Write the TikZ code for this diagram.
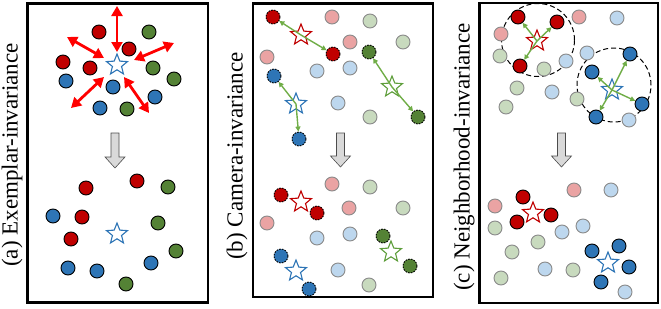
\documentclass[tikz,border=0pt]{standalone}
\usepackage{fontspec}
\setmainfont{Liberation Serif}
\usetikzlibrary{shapes.geometric,arrows.meta}
\definecolor{dred}{HTML}{C00000}
\definecolor{dgreen}{HTML}{548235}
\definecolor{dblue}{HTML}{2E75B6}
\definecolor{lred}{HTML}{EAA3A3}
\definecolor{lgreen}{HTML}{C8DABE}
\definecolor{lblue}{HTML}{BDD7EE}
\definecolor{lborder}{HTML}{8A8A8A}
\definecolor{agreen}{HTML}{70AD47}
\definecolor{sgreen}{HTML}{5F9E3C}
\definecolor{arrgray}{HTML}{D9D9D9}
\tikzset{
  pt/.style={circle, draw=black, line width=0.9pt, minimum size=14pt, inner sep=0pt},
  dr/.style={pt, fill=dred}, dg/.style={pt, fill=dgreen}, db/.style={pt, fill=dblue},
  lpt/.style={circle, draw=lborder, line width=0.9pt, minimum size=14pt, inner sep=0pt},
  lr/.style={lpt, fill=lred}, lg/.style={lpt, fill=lgreen}, lb/.style={lpt, fill=lblue},
  cam/.style={dash pattern=on 1.6pt off 1.2pt},
  mystar/.style={star, star points=5, star point ratio=2.3, minimum size=22pt, inner sep=0pt, fill=white, line width=1.1pt},
  bstar/.style={mystar, draw=dblue}, rstar/.style={mystar, draw=dred}, gstar/.style={mystar, draw=sgreen},
  frame/.style={draw=black, line width=2.6pt},
  lab/.style={rotate=90, font=\fontsize{23}{23}\selectfont, inner sep=0pt},
  redarr/.style={draw=red, line width=2.8pt, {Triangle[length=10pt,width=11pt]}-{Triangle[length=10pt,width=11pt]}},
  garr/.style={draw=agreen, line width=1.4pt, -{Triangle[length=5pt,width=5pt]}},
  downarr/.style={draw=black!70, line width=0.6pt, fill=arrgray},
  nbh/.style={circle, draw=black, line width=1pt, dash pattern=on 5pt off 3pt, inner sep=0pt}
}
\begin{document}
\begin{tikzpicture}[x=1pt,y=-1pt]
\useasboundingbox (0,0) rectangle (661,308);
% frames
\draw[frame] (27.5,3.5) rectangle (208,302.5);
\draw[frame] (253,3.5) rectangle (433,297);
\draw[frame] (479.5,3) rectangle (658,303);
% labels
\node[lab] (la) at (12,155) {(a) Exemplar-invariance};
\node[lab] (lb) at (237,156) {(b) Camera-invariance};
\node[lab] (lc) at (464,157) {(c) Neighborhood-invariance};

% ---------- panel a top ----------
\node[dr] (a1) at (99,32) {};
\node[dg] (a2) at (149,32) {};
\node[dr] (a3) at (129,49) {};
\node[dr] (a4) at (63,62) {};
\node[dr] (a5) at (90,68) {};
\node[dg] (a6) at (153,68) {};
\node[dg] (a7) at (174,79) {};
\node[db] (a8) at (66,81) {};
\node[db] (a9) at (113,87) {};
\node[db] (a10) at (155,97) {};
\node[db] (a11) at (100,108) {};
\node[dg] (a12) at (127,109) {};
\node[bstar] (as) at (117,65) {};
\coordinate (e1s) at (117,52); \coordinate (e1t) at (117,6);
\coordinate (e2s) at (104,58); \coordinate (e2t) at (67,37);
\coordinate (e3s) at (134,60); \coordinate (e3t) at (174,43);
\coordinate (e4s) at (104,77); \coordinate (e4t) at (71,108);
\coordinate (e5s) at (124,77); \coordinate (e5t) at (149,113);
\draw[redarr] (e1s) -- (e1t);
\draw[redarr] (e2s) -- (e2t);
\draw[redarr] (e3s) -- (e3t);
\draw[redarr] (e4s) -- (e4t);
\draw[redarr] (e5s) -- (e5t);
% down arrow a
\coordinate (da) at (115,133);
\draw[downarr] (da) ++(-4,0) -- ++(8,0) -- ++(0,24) -- ++(6,0) -- ++(-10,11) -- ++(-10,-11) -- ++(6,0) -- cycle;
% ---------- panel a bottom ----------
\node[dr] (b1) at (86,188) {};
\node[dr] (b2) at (137,181) {};
\node[dg] (b3) at (168,187) {};
\node[db] (b4) at (53,216) {};
\node[dr] (b5) at (82,217) {};
\node[dg] (b6) at (158,223) {};
\node[dr] (b7) at (71,239) {};
\node[dg] (b8) at (176,251) {};
\node[db] (b9) at (151,263) {};
\node[db] (b10) at (68,268) {};
\node[db] (b11) at (97,271) {};
\node[dg] (b12) at (126,284) {};
\node[bstar] (bs) at (117,234) {};

% ---------- panel b top ----------
\node[lr] (c1) at (332,17) {};
\node[lg] (c2) at (370,21) {};
\node[lr] (c3) at (350,42) {};
\node[lg] (c4) at (403,42) {};
\node[lr] (c5) at (267,57) {};
\node[lb] (c6) at (317,71) {};
\node[lb] (c7) at (350,68) {};
\node[lb] (c8) at (338,103) {};
\node[lg] (c9) at (370,117) {};
\node[dr,cam] (cr1) at (273,17) {};
\node[dr,cam] (cr2) at (333,54) {};
\node[dg,cam] (cg1) at (369,52) {};
\node[dg,cam] (cg2) at (418,117) {};
\node[db,cam] (cb1) at (274,76) {};
\node[db,cam] (cb2) at (299,139) {};
\node[rstar] (crs) at (301,35) {};
\node[gstar] (cgs) at (392,87) {};
\node[bstar] (cbs) at (296,104) {};
\draw[garr] (crs.center) -- (cr1);
\draw[garr] (crs.center) -- (cr2);
\draw[garr] (cgs.center) -- (cg1);
\draw[garr] (cgs.center) -- (cg2);
\draw[garr] (cbs.center) -- (cb1);
\draw[garr] (cbs.center) -- (cb2);
% down arrow b
\coordinate (db) at (340.5,133);
\draw[downarr] (db) ++(-4,0) -- ++(8,0) -- ++(0,23) -- ++(6,0) -- ++(-10,11) -- ++(-10,-11) -- ++(6,0) -- cycle;
% ---------- panel b bottom ----------
\node[lr] (d1) at (332,184) {};
\node[lg] (d2) at (370,187) {};
\node[lr] (d3) at (349,208) {};
\node[lg] (d4) at (403,208) {};
\node[lr] (d5) at (267,223) {};
\node[lb] (d6) at (317,238) {};
\node[lb] (d7) at (350,234) {};
\node[lb] (d8) at (338,270) {};
\node[lg] (d9) at (369,285) {};
\node[dr,cam] (dr1) at (281,195) {};
\node[dr,cam] (dr2) at (317,213) {};
\node[dg,cam] (dg1) at (383,236) {};
\node[dg,cam] (dg2) at (410,266) {};
\node[db,cam] (db1) at (281,256) {};
\node[db,cam] (db2) at (309,289) {};
\node[rstar] (drs) at (301,202) {};
\node[gstar] (dgs) at (391,252) {};
\node[bstar] (dbs) at (296,271) {};

% ---------- panel c top ----------
\node[nbh, minimum size=73pt] (n1) at (538,40) {};
\node[nbh, minimum size=74pt] (n2) at (614,85) {};
\node[lr] (e1) at (579,17) {};
\node[lb] (e2) at (617,18) {};
\node[lr] (e3) at (501,34) {};
\node[lg] (e4) at (500,56) {};
\node[lg] (e5) at (544,69) {};
\node[lb] (e6) at (566,61) {};
\node[lb] (e7) at (587,53) {};
\node[lg] (e8) at (517,88) {};
\node[lb] (e9) at (552,92) {};
\node[lg] (e10) at (577,99) {};
\node[lg] (e11) at (506,107) {};
\node[lb] (e12) at (629,120) {};
\node[dr] (er1) at (518,17) {};
\node[dr] (er2) at (557,22) {};
\node[dr] (er3) at (520,66) {};
\node[db] (eb1) at (630,54) {};
\node[db] (eb2) at (592,72) {};
\node[db] (eb3) at (642,104) {};
\node[db] (eb4) at (596,117) {};
\node[rstar] (ers) at (537,41) {};
\node[bstar] (ebs) at (612,90) {};
\draw[garr] (ers.center) -- (er1);
\draw[garr] (ers.center) -- (er2);
\draw[garr] (ers.center) -- (er3);
\draw[garr] (ebs.center) -- (eb1);
\draw[garr] (ebs.center) -- (eb2);
\draw[garr] (ebs.center) -- (eb3);
\draw[garr] (ebs.center) -- (eb4);
% down arrow c
\coordinate (dc) at (561.5,133);
\draw[downarr] (dc) ++(-4,0) -- ++(8,0) -- ++(0,23) -- ++(6,0) -- ++(-10,11) -- ++(-10,-11) -- ++(6,0) -- cycle;
% ---------- panel c bottom ----------
\node[lr] (f1) at (574,190) {};
\node[lb] (f2) at (611,190) {};
\node[lr] (f3) at (495,206) {};
\node[lg] (f4) at (495,228) {};
\node[lb] (f5) at (562,232) {};
\node[lb] (f6) at (583,226) {};
\node[lg] (f7) at (538,242) {};
\node[lg] (f8) at (512,252) {};
\node[lb] (f9) at (545,269) {};
\node[lg] (f10) at (573,270) {};
\node[lg] (f11) at (501,278) {};
\node[lb] (f12) at (625,292) {};
\node[dr] (fr1) at (523,197) {};
\node[dr] (fr2) at (551,215) {};
\node[dr] (fr3) at (517,222) {};
\node[db] (fb1) at (592,251) {};
\node[db] (fb2) at (619,246) {};
\node[db] (fb3) at (629,267) {};
\node[db] (fb4) at (601,282) {};
\node[rstar] (frs) at (533,213) {};
\node[bstar] (fbs) at (608,263) {};
\end{tikzpicture}
\end{document}
